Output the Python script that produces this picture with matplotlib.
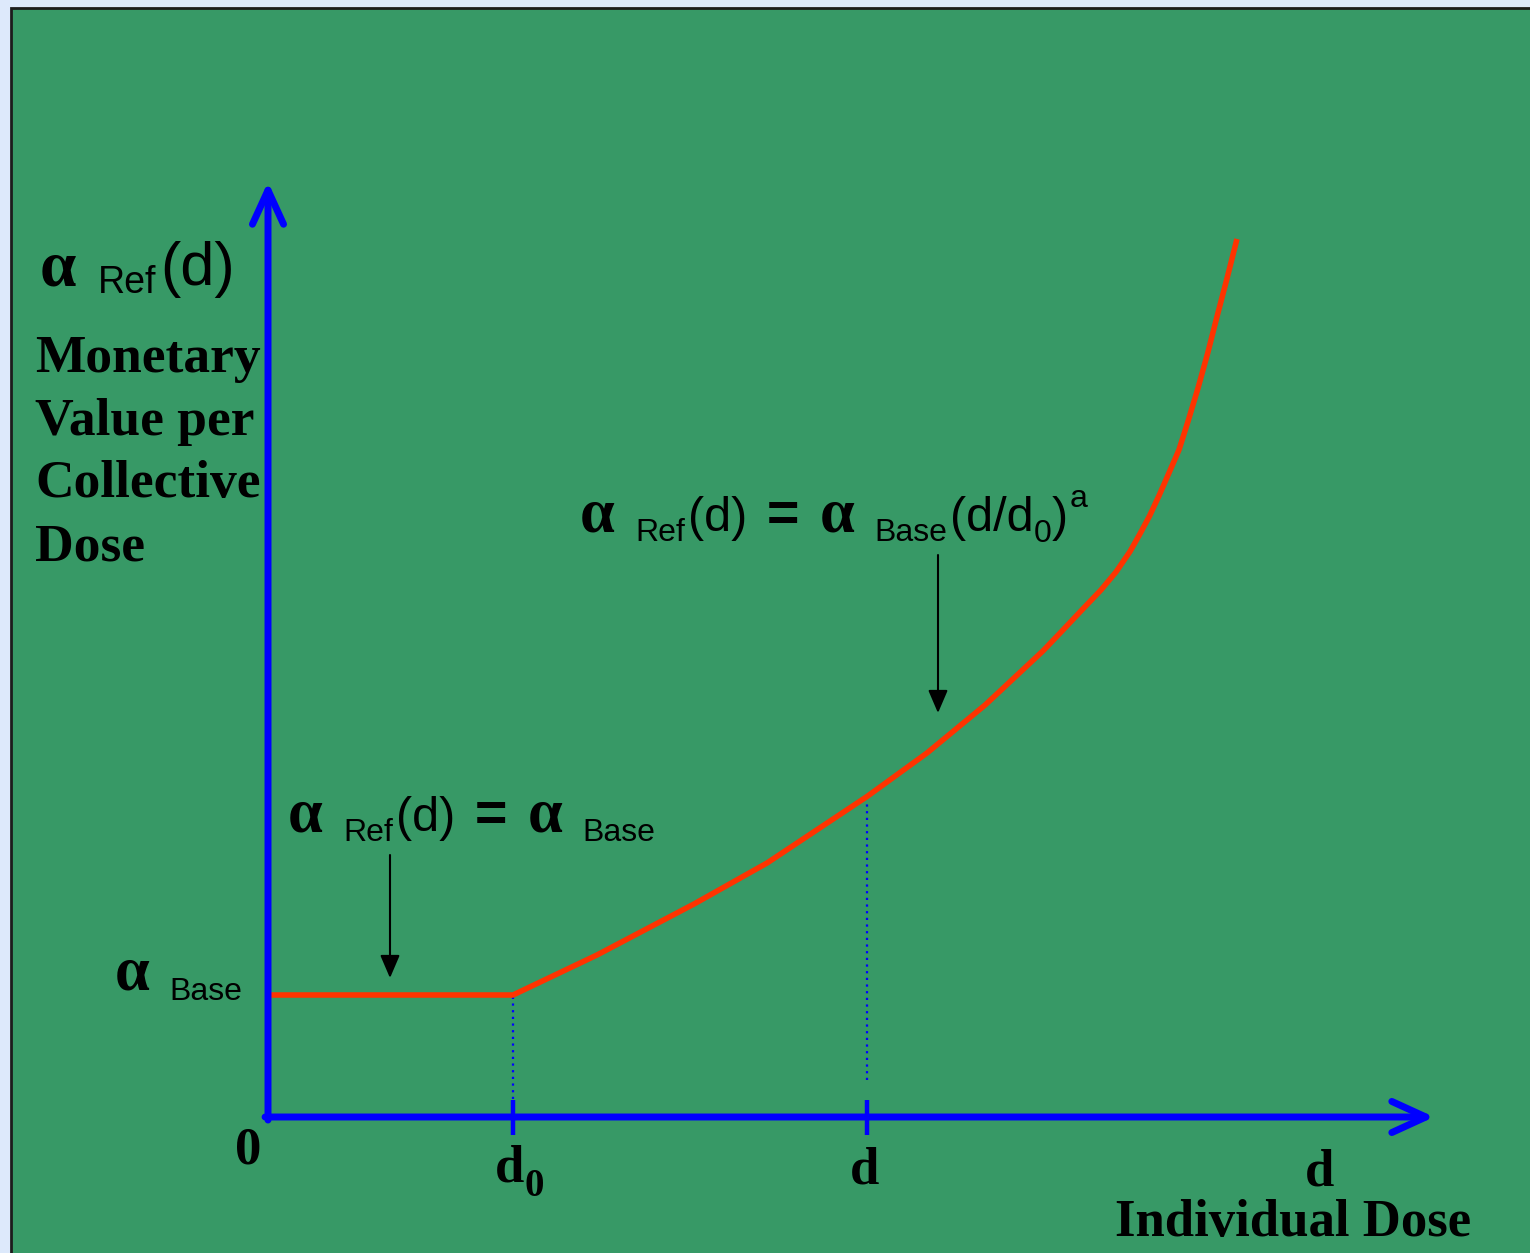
import matplotlib
matplotlib.use("Agg")
import matplotlib.pyplot as plt
from matplotlib.patches import Rectangle

W, H = 1530, 1253
SANS = "Liberation Sans"
SERIF = "Liberation Serif"

# dose measured in units of d0, value in units of alpha_base
d0 = 1.0
d_mark = 2.445
alpha_base = 1.0
flat_x = [0.0, 1.0]
flat_y = [1.0, 1.0]
curve_x = [1.0, 1.343, 1.739, 2.037, 2.445, 2.690, 2.927, 3.163, 3.242, 3.322, 3.400, 3.461,
           3.518, 3.559, 3.598, 3.637, 3.678, 3.718, 3.755, 3.796, 3.836, 3.873, 3.914, 3.955]
curve_y = [1.0, 1.328, 1.746, 2.082, 2.627, 2.984, 3.377, 3.820, 3.986, 4.156, 4.320, 4.467,
           4.634, 4.780, 4.926, 5.094, 5.282, 5.467, 5.701, 5.975, 6.265, 6.557, 6.871, 7.197]
x_axis_end = 4.76
y_axis_end = 7.665
ylabel_lines = ["Monetary", "Value per", "Collective", "Dose"]

fig = plt.figure(figsize=(W / 100, H / 100), dpi=100)
fig.patch.set_facecolor("#dde9fb")
fig.patches.append(Rectangle((11 / W, -0.01), 1.0, 1.01 - 8 / H, transform=fig.transFigure,
                             facecolor="#379966", edgecolor="#1c1c1c", linewidth=2, zorder=-5))

ax = fig.add_axes([0, 0, 1, 1])
ax.set_zorder(2)
ax.set_xlim(-268 / 245, (W - 268) / 245)
ax.set_ylim(-(H - 1117) / 122, 1117 / 122)
ax.axis("off")
ax.patch.set_alpha(0)

# axes with open arrow heads
axis_arrow = dict(arrowstyle="->,head_length=2.45,head_width=1.12", mutation_scale=10,
                  lw=5, color="#0000ff", shrinkA=0, shrinkB=0, capstyle="round", joinstyle="round")
ax.annotate("", xy=(x_axis_end, 0), xytext=(-0.012, 0), arrowprops=axis_arrow)
ax.annotate("", xy=(0, y_axis_end), xytext=(0, -0.025), arrowprops=axis_arrow)

# dotted guides and ticks at d0 and d
ax.plot([d0, d0], [0.15, alpha_base], color="#0000ff", lw=1.6, ls=(0, (1, 2)))
ax.plot([d_mark, d_mark], [0.30, curve_y[4] - 0.03], color="#0000ff", lw=1.6, ls=(0, (1, 2)))
for xt in [d0, d_mark]:
    ax.plot([xt, xt], [0.14, -0.15], color="#0000ff", lw=3.2, solid_capstyle="butt")

# the curve: flat part then the rising part
ax.plot(flat_x + curve_x[1:], flat_y + curve_y[1:], color="#ff3300", lw=4,
        solid_joinstyle="round", solid_capstyle="butt")

# pointer arrows
pointer = dict(arrowstyle="-|>,head_length=1.4,head_width=0.6", mutation_scale=10,
               lw=1.5, color="black", shrinkA=0, shrinkB=0)
ax.annotate("", xy=((390 - 268) / 245, (1117 - 978) / 122),
            xytext=((390 - 268) / 245, (1117 - 855) / 122), arrowprops=pointer)
ax.annotate("", xy=((938 - 268) / 245, (1117 - 713) / 122),
            xytext=((938 - 268) / 245, (1117 - 555) / 122), arrowprops=pointer)

renderer = fig.canvas.get_renderer()


# write text pieces one after another; x, y are pixels from top-left (baseline)
def write(x, y, pieces):
    for s, fam, size, weight, drop, gap in pieces:
        x += gap
        t = fig.text(x / W, 1 - (y + drop) / H, s, family=fam, size=size, weight=weight,
                     va="baseline", ha="left", color="black", zorder=5)
        x += t.get_window_extent(renderer).width


write(40, 285, [("α", SERIF, 47, "bold", 0, 0), ("Ref", SANS, 27, "normal", 8, 22),
                ("(d)", SANS, 44, "normal", 0, 3)])
for i, line in enumerate(ylabel_lines):
    fig.text(35 / W, 1 - (372 + i * 62.7) / H, line, family=SERIF, size=38.5, weight="bold",
             va="baseline", ha="left")

write(288, 831, [("α", SERIF, 45, "bold", 0, 0), ("Ref", SANS, 23, "normal", 10, 20),
                 ("(d)", SANS, 35, "normal", 0, 3), ("=", SANS, 40, "bold", 0, 20),
                 ("α", SERIF, 45, "bold", 0, 20), ("Base", SANS, 23, "normal", 10, 20)])

write(580, 531, [("α", SERIF, 45, "bold", 0, 0), ("Ref", SANS, 23, "normal", 10, 20),
                 ("(d)", SANS, 35, "normal", 0, 3), ("=", SANS, 40, "bold", 0, 20),
                 ("α", SERIF, 45, "bold", 0, 20), ("Base", SANS, 23, "normal", 10, 20),
                 ("(d/d", SANS, 35, "normal", 0, 3), ("0", SANS, 23, "normal", 11, 0),
                 (")", SANS, 35, "normal", 0, 0), ("a", SANS, 23, "normal", -24, 2)])

write(115, 990, [("α", SERIF, 45, "bold", 0, 0), ("Base", SANS, 23, "normal", 10, 20)])

fig.text(235 / W, 1 - 1163 / H, "0", family=SERIF, size=38, weight="bold", va="baseline")
write(495, 1182, [("d", SERIF, 38, "bold", 0, 0), ("0", SERIF, 28, "bold", 14, 0)])
fig.text(850 / W, 1 - 1183 / H, "d", family=SERIF, size=38, weight="bold", va="baseline")
fig.text(1305 / W, 1 - 1186 / H, "d", family=SERIF, size=38, weight="bold", va="baseline")
fig.text(1115 / W, 1 - 1236 / H, "Individual Dose", family=SERIF, size=38, weight="bold",
         va="baseline")

fig.savefig("out.png", dpi=100, facecolor=fig.get_facecolor())
